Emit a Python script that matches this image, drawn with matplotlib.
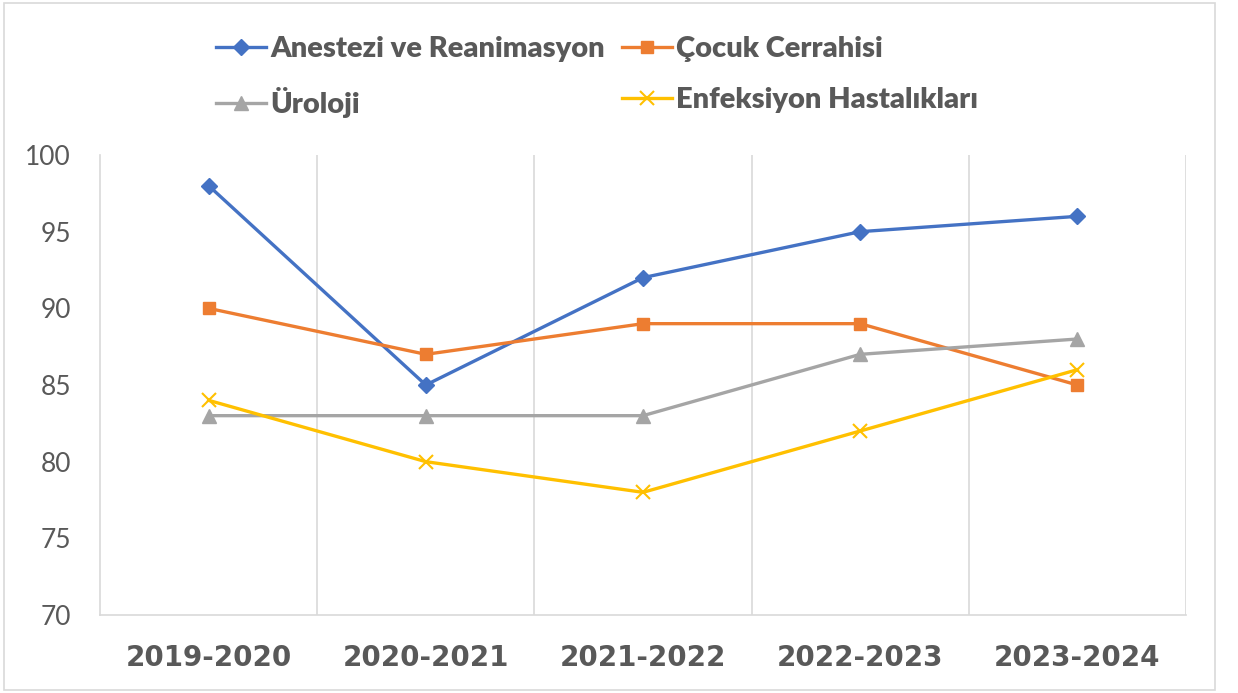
import matplotlib
matplotlib.use("Agg")
import matplotlib.pyplot as plt
from matplotlib.patches import Rectangle

# Data
years = ["2019-2020", "2020-2021", "2021-2022", "2022-2023", "2023-2024"]
anestezi = [98, 85, 92, 95, 96]
cocuk = [90, 87, 89, 89, 85]
uroloji = [83, 83, 83, 87, 88]
enfeksiyon = [84, 80, 78, 82, 86]

W, H = 1238, 693
fig = plt.figure(figsize=(W / 100, H / 100), dpi=100)
fig.patch.set_facecolor("white")

# outer chart border
fig.patches.append(Rectangle((4 / W, 3 / H), (1215 - 4) / W, (690 - 3) / H,
                             transform=fig.transFigure, fill=False,
                             edgecolor="#d9d9d9", linewidth=1.2))

ax = fig.add_axes([100 / W, (H - 615) / H, (1186 - 100) / W, (615 - 155) / H])

x = list(range(len(years)))
lw = 2.4
l1, = ax.plot(x, anestezi, color="#4472C4", lw=lw, marker="D", markersize=8.5,
              label="Anestezi ve Reanimasyon")
l2, = ax.plot(x, cocuk, color="#ED7D31", lw=lw, marker="s", markersize=9,
              label="Çocuk Cerrahisi")
l3, = ax.plot(x, uroloji, color="#A5A5A5", lw=lw, marker="^", markersize=10,
              label="Üroloji")
l4, = ax.plot(x, enfeksiyon, color="#FFC000", lw=lw, marker="x", markersize=10,
              markeredgewidth=1.5, label="Enfeksiyon Hastalıkları")

ax.set_xlim(-0.5, len(years) - 0.5)
ax.set_ylim(70, 100)
ax.set_yticks(range(70, 101, 5))
ax.set_xticks(x)
ax.set_xticklabels(years)

# vertical gridlines at category boundaries
for b in [i + 0.5 for i in range(len(years))]:
    ax.axvline(b, color="#d9d9d9", lw=1.2, zorder=0)

for s in ["top", "right"]:
    ax.spines[s].set_visible(False)
for s in ["left", "bottom"]:
    ax.spines[s].set_color("#d9d9d9")
    ax.spines[s].set_linewidth(1.2)

ax.tick_params(axis="both", length=0)
ax.tick_params(axis="y", pad=21, labelsize=19, labelcolor="#595959")
ax.tick_params(axis="x", pad=21, labelsize=20, labelcolor="#595959")
for t in ax.get_yticklabels():
    t.set_fontfamily("Lato")
for t in ax.get_xticklabels():
    t.set_fontfamily("DejaVu Sans")
    t.set_fontweight("bold")

leg = fig.legend([l1, l3, l2, l4],
                 [l1.get_label(), l3.get_label(), l2.get_label(), l4.get_label()],
                 ncol=2, loc="upper left", bbox_to_anchor=(190 / W, 1 - 10 / H),
                 frameon=False, handlelength=1.7, handletextpad=0.15,
                 columnspacing=0.6, labelspacing=0.85,
                 prop={"family": "Lato", "weight": "heavy", "size": 21})
for t in leg.get_texts():
    t.set_color("#595959")

fig.savefig("out.png", dpi=100, facecolor="white")
